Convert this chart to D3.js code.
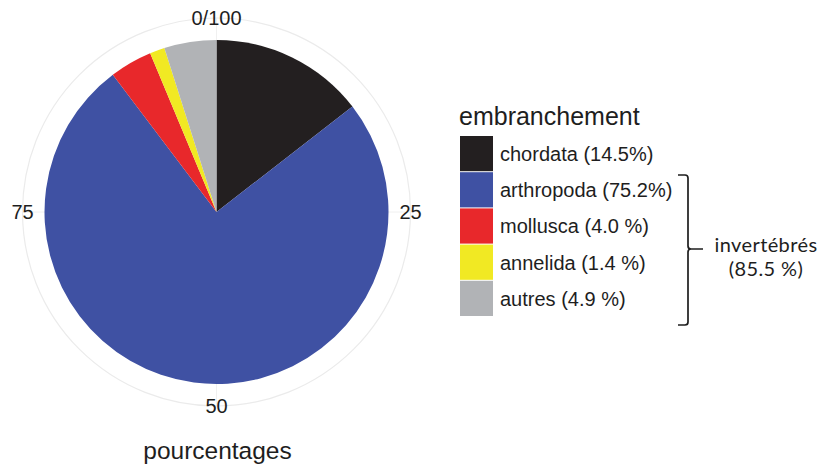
<!DOCTYPE html>
<html>
<head>
<meta charset="utf-8">
<script src="https://cdn.jsdelivr.net/npm/d3@7"></script>
<style>
  body { margin: 0; background: #fff; }
  svg { display: block; }
</style>
</head>
<body>
<div id="chart"></div>
<script>
// data
var categories = ['chordata', 'arthropoda', 'mollusca', 'annelida', 'autres'];
var percents = [14.5, 75.2, 4.0, 1.4, 4.9];
var legendLabels = ['chordata (14.5%)', 'arthropoda (75.2%)', 'mollusca (4.0 %)', 'annelida (1.4 %)', 'autres (4.9 %)'];
var sliceColors = ['#231f20', '#3f51a3', '#e8282b', '#f1e923', '#b1b3b6'];
var axisTicks = [0, 25, 50, 75];
var axisTickLabels = ['0/100', '25', '50', '75'];
var groupLabel = ['invertébrés', '(85.5 %)'];

var width = 821, height = 468;
var cx = 216.5, cy = 212, radius = 172, gridRadius = 194;

var svg = d3.select('#chart').append('svg')
    .attr('width', width)
    .attr('height', height);

var angle = d3.scaleLinear().domain([0, 100]).range([0, 2 * Math.PI]);

var color = d3.scaleOrdinal().domain(categories).range(sliceColors);

var g = svg.append('g').attr('transform', 'translate(' + cx + ',' + cy + ')');

// faint polar grid
g.append('circle')
    .attr('r', gridRadius)
    .attr('fill', 'none')
    .attr('stroke', '#ebebeb')
    .attr('stroke-width', 1.2);

g.selectAll('line.grid')
    .data(axisTicks)
    .enter().append('line')
    .attr('class', 'grid')
    .attr('x1', 0).attr('y1', 0)
    .attr('x2', function (d) { return gridRadius * Math.sin(angle(d)); })
    .attr('y2', function (d) { return -gridRadius * Math.cos(angle(d)); })
    .attr('stroke', '#f0f0f0')
    .attr('stroke-width', 1);

// pie
var pie = d3.pie()
    .sort(null)
    .value(function (d, i) { return percents[i]; })
    .startAngle(0)
    .endAngle(2 * Math.PI);

var arc = d3.arc().innerRadius(0).outerRadius(radius);

g.selectAll('path.slice')
    .data(pie(categories))
    .enter().append('path')
    .attr('class', 'slice')
    .attr('d', arc)
    .attr('fill', function (d) { return color(d.data); });

// angle labels sit on the grid circle
g.selectAll('text.tick')
    .data(axisTicks)
    .enter().append('text')
    .attr('class', 'tick')
    .attr('x', function (d) { return gridRadius * Math.sin(angle(d)); })
    .attr('y', function (d) { return -gridRadius * Math.cos(angle(d)); })
    .attr('dy', '0.35em')
    .attr('text-anchor', 'middle')
    .style('font-family', 'Liberation Sans, Arial, sans-serif')
    .style('font-size', '20px')
    .style('fill', '#1e1e1e')
    .text(function (d, i) { return axisTickLabels[i]; });

svg.append('text')
    .attr('x', cx + 1)
    .attr('y', 459)
    .attr('text-anchor', 'middle')
    .style('font-family', 'Liberation Sans, Arial, sans-serif')
    .style('font-size', '24.5px')
    .style('fill', '#1e1e1e')
    .text('pourcentages');

// legend
var legendX = 460, legendTop = 136, keyW = 33, keyH = 36.2;
var legend = svg.append('g');

legend.append('text')
    .attr('x', legendX - 1)
    .attr('y', 125)
    .style('font-family', 'Liberation Sans, Arial, sans-serif')
    .style('font-size', '25px')
    .style('fill', '#1e1e1e')
    .text('embranchement');

var items = legend.selectAll('g.item')
    .data(categories)
    .enter().append('g')
    .attr('class', 'item')
    .attr('transform', function (d, i) { return 'translate(' + legendX + ',' + (legendTop + i * keyH) + ')'; });

items.append('rect')
    .attr('width', keyW)
    .attr('height', keyH - 1)
    .attr('fill', function (d) { return color(d); });

items.append('text')
    .attr('x', keyW + 7)
    .attr('y', keyH / 2)
    .attr('dy', '0.35em')
    .style('font-family', 'Liberation Sans, Arial, sans-serif')
    .style('font-size', '20px')
    .style('fill', '#1e1e1e')
    .text(function (d, i) { return legendLabels[i]; });

// bracket round the invertebrates
var bx = 688, bTop = 175, bBot = 325, bMid = 249;
svg.append('path')
    .attr('d', 'M' + (bx - 10) + ',' + bTop + ' H' + (bx - 3) + ' Q' + bx + ',' + bTop + ' ' + bx + ',' + (bTop + 3) +
        ' V' + (bMid - 3) + ' Q' + bx + ',' + bMid + ' ' + (bx + 3) + ',' + bMid + ' H' + (bx + 15) +
        ' M' + (bx + 3) + ',' + bMid + ' Q' + bx + ',' + bMid + ' ' + bx + ',' + (bMid + 3) +
        ' V' + (bBot - 3) + ' Q' + bx + ',' + bBot + ' ' + (bx - 3) + ',' + bBot + ' H' + (bx - 10))
    .attr('fill', 'none')
    .attr('stroke', '#1e1e1e')
    .attr('stroke-width', 1.7);

svg.selectAll('text.group')
    .data(groupLabel)
    .enter().append('text')
    .attr('class', 'group')
    .attr('x', 766)
    .attr('y', function (d, i) { return 245 + i * 24; })
    .attr('dy', '0.35em')
    .attr('text-anchor', 'middle')
    .style('font-family', 'Lato, sans-serif')
    .style('font-size', '20px')
    .style('letter-spacing', '0.4px')
    .style('fill', '#1e1e1e')
    .text(function (d) { return d; });
</script>
</body>
</html>
